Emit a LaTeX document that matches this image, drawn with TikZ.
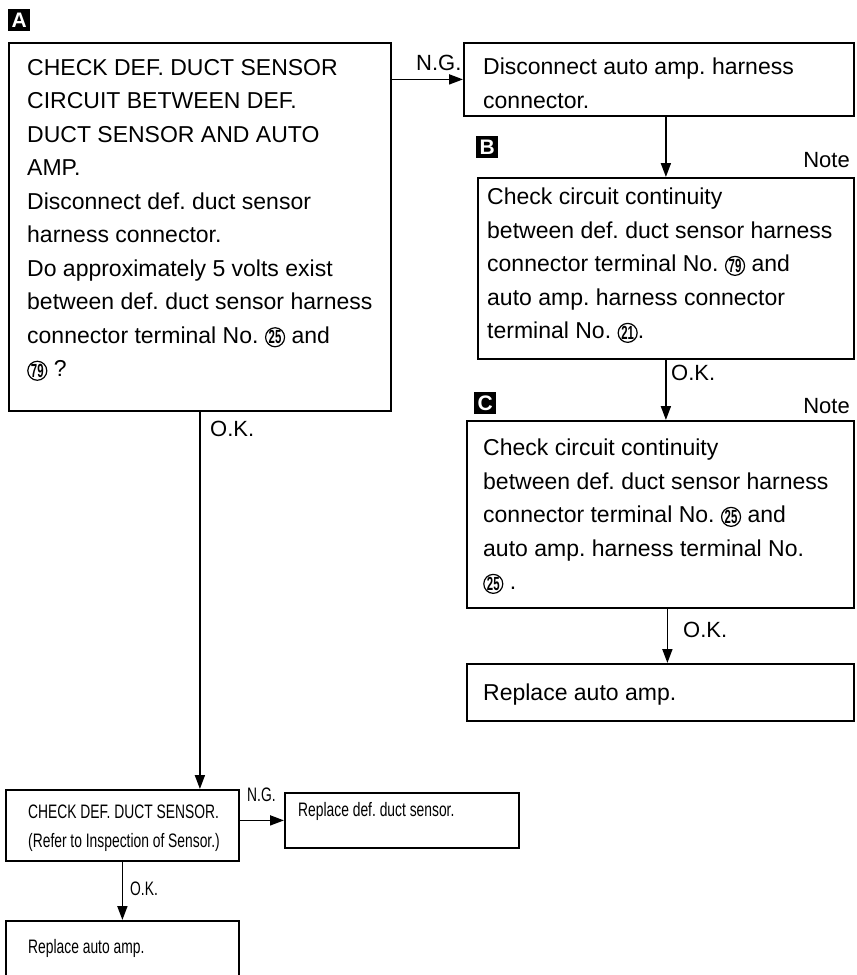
\documentclass[tikz,border=0pt]{standalone}
\usepackage{fontspec}
\setmainfont{Liberation Sans}
\newfontfamily\narrowfont[FakeStretch=0.71]{Liberation Sans}
\newfontfamily\digitfont[FakeStretch=0.6]{Liberation Sans}
\usetikzlibrary{arrows.meta}
\frenchspacing
\newcommand\cnum[1]{\tikz[baseline=0pt,x=1pt,y=1pt]{\draw[line width=1.2pt] (0,6) circle[radius=9.5pt]; \node[inner sep=0pt,anchor=base,font={\digitfont\bfseries\fontsize{19}{19}\selectfont}] (cn) at (0,-0.5) {#1};}}
\tikzset{
  box/.style={draw, line width=1.8pt, inner sep=0pt, anchor=north west},
  txt/.style={anchor=north west, inner sep=0pt, align=left, font={\fontsize{23}{33.5}\selectfont}},
  ntxt/.style={anchor=north west, inner sep=0pt, align=left, font={\narrowfont\fontsize{19.5}{29}\selectfont}},
  lbl/.style={anchor=base west, inner sep=0pt, font={\fontsize{22}{22}\selectfont}},
  nlbl/.style={anchor=base west, inner sep=0pt, font={\narrowfont\fontsize{19.5}{19.5}\selectfont}},
  badge/.style={fill=black, text=white, anchor=north west, inner sep=0pt, minimum size=22pt, font={\bfseries\fontsize{21}{21}\selectfont}},
  arr/.style={line width=1.8pt, -{Triangle[length=14pt,width=10pt]}}
}
\begin{document}
\begin{tikzpicture}[x=1pt,y=-1pt]
\clip (0,0) rectangle (857,975);
\fill[white] (0,0) rectangle (857,975);
% boxes
\node[box, minimum width=382, minimum height=368] (A) at (8,42) {};
\node[box, minimum width=390, minimum height=73] (TR) at (463,42) {};
\node[box, minimum width=376, minimum height=181] (B) at (477,177) {};
\node[box, minimum width=387, minimum height=187] (C) at (466,420) {};
\node[box, minimum width=387, minimum height=57] (R) at (466,663) {};
\node[box, minimum width=233, minimum height=71] (D) at (5,789) {};
\node[box, minimum width=234, minimum height=55] (E) at (284,792) {};
\node[box, minimum width=233, minimum height=90] (F) at (5,920) {};
% badges
\node[badge] (bA) at (8,9) {A};
\node[badge] (bB) at (476,136) {B};
\node[badge] (bC) at (474,392) {C};
\node[lbl, anchor=base east] (nB) at (850,167) {Note};
\node[lbl, anchor=base east] (nC) at (850,413) {Note};
% texts
\node[txt] (tA) at (27,59) {CHECK DEF. DUCT SENSOR\\CIRCUIT BETWEEN DEF.\\DUCT SENSOR AND AUTO\\AMP.\\Disconnect def. duct sensor\\harness connector.\\Do approximately 5 volts exist\\between def. duct sensor harness\\connector terminal No. \cnum{25} and\\\cnum{79} ?};
\node[txt] (tTR) at (483,58) {Disconnect auto amp. harness\\connector.};
\node[txt] (tB) at (487,188) {Check circuit continuity\\between def. duct sensor harness\\connector terminal No. \cnum{79} and\\auto amp. harness connector\\terminal No. \cnum{21}.};
\node[txt] (tC) at (483,439) {Check circuit continuity\\between def. duct sensor harness\\connector terminal No. \cnum{25} and\\auto amp. harness terminal No.\\\cnum{25} .};
\node[txt] (tR) at (483,684) {Replace auto amp.};
\node[ntxt] (tD) at (28,805) {CHECK DEF. DUCT SENSOR.\\(Refer to Inspection of Sensor.)};
\node[ntxt] (tE) at (298,802) {Replace def. duct sensor.};
\node[ntxt] (tF) at (28,939) {Replace auto amp.};
% connectors
\draw[arr] (TR.west -| A.east) -- (TR.west);
\draw[arr] (B.north |- TR.south) -- (B.north);
\draw[arr] (B.south) -- (C.north -| B.south);
\draw[arr] ([xshift=7pt]C.south) -- ([xshift=7pt]R.north);
\draw[arr] (A.south) -- (A.south |- D.north);
\draw[arr] (E.west -| D.east) -- (E.west);
\draw[arr] (D.south) -- (F.north);
% labels
\node[lbl] (l1) at (416,70) {N.G.};
\node[lbl] (l2) at (671,380) {O.K.};
\node[lbl] (l3) at (683,637) {O.K.};
\node[lbl] (l4) at (210,436) {O.K.};
\node[nlbl] (l5) at (247,801) {N.G.};
\node[nlbl] (l6) at (130,895) {O.K.};
\end{tikzpicture}
\end{document}
